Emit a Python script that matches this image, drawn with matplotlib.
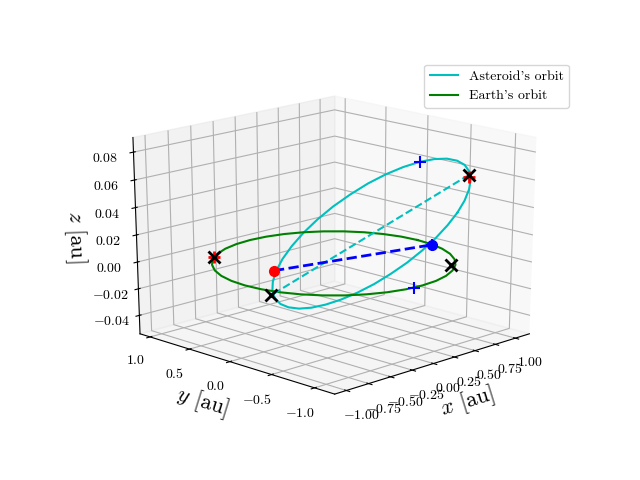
import matplotlib
matplotlib.use('Agg')
import matplotlib.pyplot as plt

plt.rcParams['font.family'] = ['cmr10', 'DejaVu Sans']
plt.rcParams['mathtext.fontset'] = 'cm'
plt.rcParams['axes.unicode_minus'] = False

# earth's orbit
earth_x = [1.026, 1.011, .965, .891, .790, .666, .522, .363, .194, .019, -.156, -.325, -.484, -.629, -.752, -.853, -.928, -.973,
           -.988, -.973, -.928, -.853, -.752, -.629, -.484, -.325, -.156, .019, .194, .363, .522, .666, .790, .891, .965, 1.011, 1.026]
earth_y = [-.043, .136, .309, .472, .619, .746, .849, .925, .971, .987, .971, .925, .849, .746, .619, .472, .309, .136,
           -.043, -.222, -.395, -.558, -.705, -.832, -.935, -1.011, -1.058, -1.073, -1.058, -1.011, -.935, -.832, -.705, -.558, -.395, -.222, -.043]
earth_z = [0] * 37

# asteroid's orbit
ast_x = [.999, .987, .952, .895, .818, .722, .612, .489, .359, .225, .090, -.040, -.163, -.273, -.369, -.446, -.503, -.538,
         -.550, -.538, -.503, -.446, -.369, -.273, -.163, -.040, .090, .225, .359, .489, .612, .722, .818, .895, .952, .987, .999]
ast_y = [-.532, -.622, -.702, -.770, -.822, -.858, -.876, -.876, -.858, -.822, -.770, -.702, -.622, -.532, -.433, -.330, -.226, -.123,
         -.024, .066, .146, .214, .266, .302, .320, .320, .302, .266, .214, .146, .066, -.024, -.123, -.226, -.330, -.433, -.532]
ast_z = [.0286, .0390, .0489, .0579, .0657, .0722, .0770, .0802, .0815, .0809, .0785, .0743, .0685, .0611, .0526, .0430, .0328, .0221,
         .0114, .0010, -.0089, -.0179, -.0257, -.0322, -.0370, -.0402, -.0415, -.0409, -.0385, -.0343, -.0285, -.0211, -.0126, -.0030, .0072, .0179, .0286]

# line of nodes
node_x = [-.545, .952]
node_y = [.085, -.285]
node_z = [.001, .0014]
# line of apsides
apsis_x = [.854, -.418]
apsis_y = [-.787, .256]
apsis_z = [.0621, -.0221]
# earth's apsides
earth_aps_x = [-.575, .633]
earth_aps_y = [.79, -.811]
earth_aps_z = [0, 0]
# red and blue crosses
red_plus_x = [-.575, .868]
red_plus_y = [.79, -.773]
red_plus_z = [0, .0602]
blue_plus_x = [.225, -.075, .952]
blue_plus_y = [-.822, -1.068, -.285]
blue_plus_z = [.0809, 0, .0014]

x_ticks = [-1, -.75, -.5, -.25, 0, .25, .5, .75, 1]
x_labels = ['$-1.00$', '$-0.75$', '$-0.50$', '$-0.25$', '$0.00$', '$0.25$', '$0.50$', '$0.75$', '$1.00$']
y_ticks = [-1, -.5, 0, .5, 1]
y_labels = ['$-1.0$', '$-0.5$', '$0.0$', '$0.5$', '$1.0$']
z_ticks = [-.04, -.02, 0, .02, .04, .06, .08]
z_labels = ['$-0.04$', '$-0.02$', '$0.00$', '$0.02$', '$0.04$', '$0.06$', '$0.08$']

fig = plt.figure(figsize=(6.4, 4.8), dpi=100)
ax = fig.add_subplot(projection='3d')
# old style 3d axes: unit cube stretched over the whole subplot
ax.apply_aspect = lambda position=None: None
ax.set_box_aspect((1, 1, 1), zoom=0.95)

ax.plot(ast_x, ast_y, ast_z, color='c', label="Asteroid's orbit")
ax.plot(earth_x, earth_y, earth_z, color='g', label="Earth's orbit")
ax.plot(apsis_x, apsis_y, apsis_z, 'c--', lw=1.5)
ax.plot(node_x, node_y, node_z, 'b--', lw=2)
ax.plot(red_plus_x, red_plus_y, red_plus_z, 'r+', ms=8, mew=2, ls='')
ax.plot(blue_plus_x, blue_plus_y, blue_plus_z, 'b+', ms=8, mew=1.5, ls='')
ax.plot(node_x[:1], node_y[:1], node_z[:1], 'ro', ms=7, ls='')
ax.plot(node_x[1:], node_y[1:], node_z[1:], 'bo', ms=7, ls='')
ax.plot(apsis_x, apsis_y, apsis_z, 'kx', ms=8, mew=2, ls='')
ax.plot(earth_aps_x, earth_aps_y, earth_aps_z, 'kx', ms=8, mew=2, ls='')

ax.set_xlim(-1.129, 1.178)
ax.set_ylim(-1.229, 1.131)
ax.set_zlim(-.054, .0904)
ax.set_xticks(x_ticks, x_labels)
ax.set_yticks(y_ticks, y_labels)
ax.set_zticks(z_ticks, z_labels)
ax.set_xlabel('$x$ [au]', fontsize=16)
ax.set_ylabel('$y$ [au]', fontsize=16)
ax.set_zlabel('$z$ [au]', fontsize=16)
ax.view_init(elev=20, azim=-135)
ax.legend()

plt.savefig('out.png')
